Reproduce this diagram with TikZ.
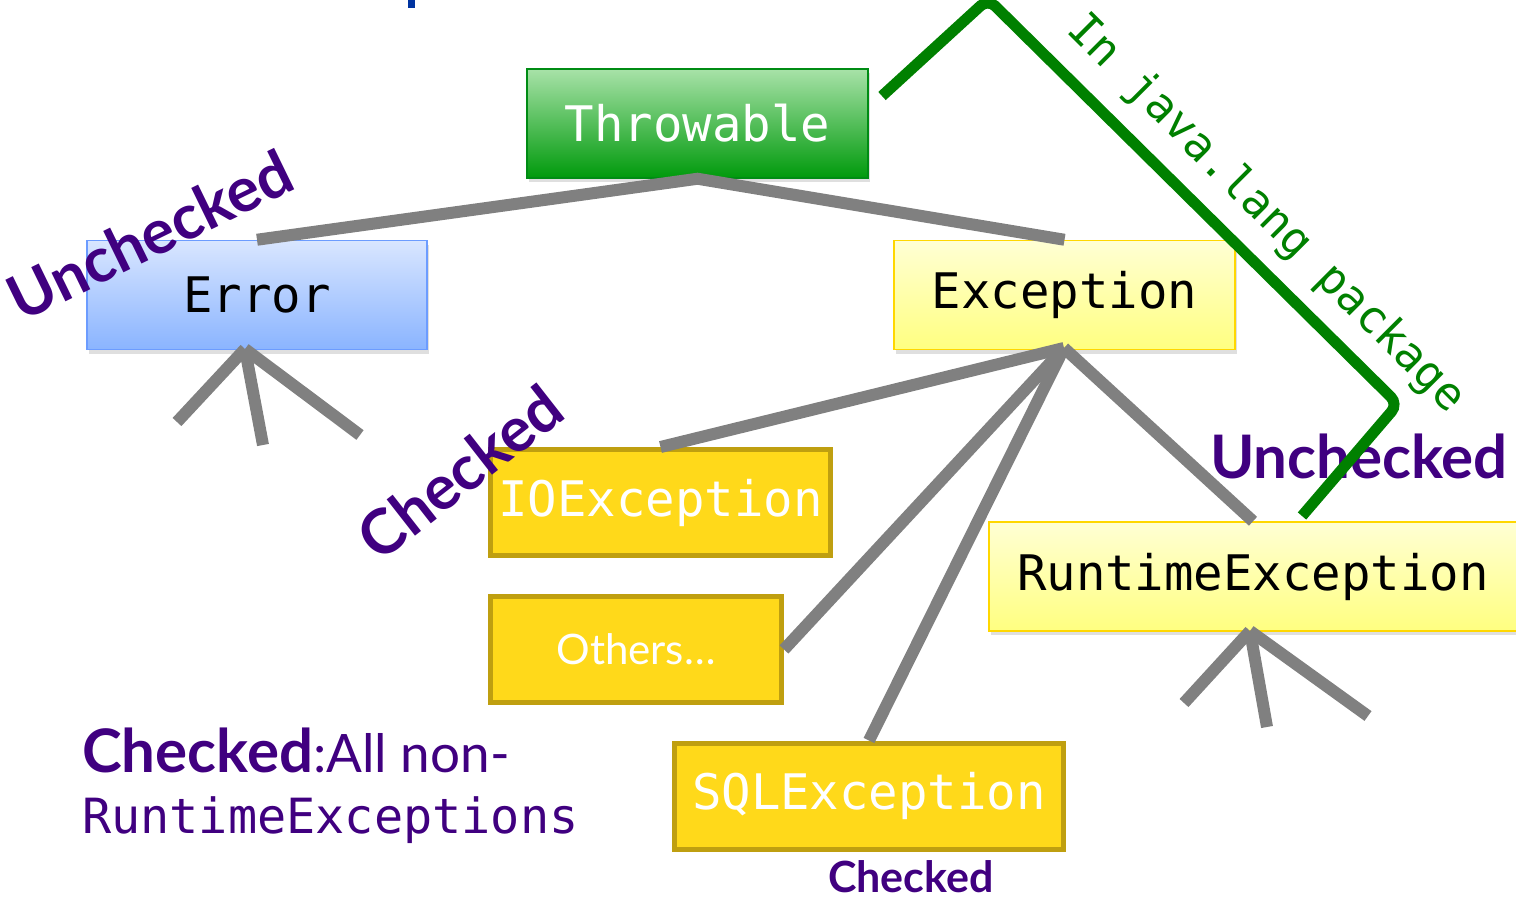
\documentclass[tikz,border=0pt]{standalone}
\usepackage{fontspec}
\setmainfont{Lato}
\newfontfamily\codefont{DejaVu Sans Mono}
\usetikzlibrary{shadows}
\definecolor{linkgray}{HTML}{808080}
\definecolor{pkggreen}{HTML}{008000}
\definecolor{tagpurple}{HTML}{400080}
\definecolor{titleblue}{HTML}{0033A0}
\definecolor{goldfill}{HTML}{FFD91A}
\definecolor{golddark}{HTML}{BF9F10}

\begin{document}
\begin{tikzpicture}[x=1pt, y=-1pt,
  classbox/.style={line width=1.5pt, minimum height=109pt,
    font=\codefont\fontsize{49}{58}\selectfont,
    drop shadow={opacity=0.25, shadow xshift=1.5pt, shadow yshift=-4pt}},
  rootbox/.style={classbox, draw={rgb,255:red,0;green,140;blue,20}, text=white,
    top color={rgb,255:red,168;green,226;blue,168}, bottom color={rgb,255:red,0;green,154;blue,12}},
  errbox/.style={classbox, draw={rgb,255:red,108;green,156;blue,255},
    top color={rgb,255:red,217;green,230;blue,255}, bottom color={rgb,255:red,138;green,180;blue,255}},
  excbox/.style={classbox, draw={rgb,255:red,255;green,215;blue,0},
    top color={rgb,255:red,255;green,255;blue,212}, bottom color={rgb,255:red,255;green,255;blue,128}},
  subbox/.style={draw=golddark, fill=goldfill, line width=5pt, minimum height=106pt, text=white,
    font=\codefont\fontsize{49}{58}\selectfont},
  link/.style={linkgray, line width=12pt},
  tag/.style={text=tagpurple, font=\bfseries\fontsize{#1}{#1}\selectfont, inner sep=0pt}]
\useasboundingbox (0,0) rectangle (1516,899);
\fill[titleblue] (408,0) rectangle (415,8);

\node[rootbox, minimum width=341pt] (throwable) at (697.5,123.5) {Throwable};
\node[errbox, minimum width=340pt] (error) at (257,295) {Error};
\node[excbox, minimum width=341pt] (exception) at (1064.5,295) {Exception};
\node[excbox, minimum width=528pt] (runtime) at (1253,576.5) {RuntimeException};
\node[subbox, minimum width=340pt] (ioexc) at (660.5,502.5) {IOException};
\node[subbox, minimum width=291pt, font=\fontsize{42}{50}\selectfont] (others) at (636,649.5) {Others\dots};
\node[subbox, minimum width=389pt] (sqlexc) at (869,796) {SQLException};

\coordinate (errfoot) at (245,349);
\coordinate (excfoot) at (1064,348);
\coordinate (rtfoot) at (1250,631);
\coordinate (errleg1) at (177,422);
\coordinate (errleg2) at (263,445);
\coordinate (errleg3) at (360,435);
\coordinate (rtleg1) at (1184,703);
\coordinate (rtleg2) at (1267,727);
\coordinate (rtleg3) at (1368,716);

\draw[link] (error.north) -- (throwable.south) -- (exception.north);
\draw[link] (errleg1) -- (errfoot);
\draw[link] (errleg2) -- (errfoot);
\draw[link] (errleg3) -- (errfoot);
\draw[link] (excfoot) -- (ioexc.north);
\draw[link] (excfoot) -- (others.east);
\draw[link] (excfoot) -- (sqlexc.north);
\draw[link] (excfoot) -- (runtime.north);
\draw[link] (rtleg1) -- (rtfoot);
\draw[link] (rtleg2) -- (rtfoot);
\draw[link] (rtleg3) -- (rtfoot);

\node[tag=62, rotate=26] (uncherr) at (150,235) {Unchecked};
\node[tag=62, rotate=38] (chkio) at (460,472) {Checked};
\node[tag=60, anchor=base west] (unchrt) at (1210,478) {Unchecked};
\node[tag=43, anchor=base west] (chksql) at (828,892) {Checked};
\node[tag=60, anchor=base west] (chknote) at (82,772) {Checked\mdseries\fontsize{53}{53}\selectfont:All non-};
\node[text=tagpurple, font=\codefont\fontsize{48.5}{48.5}\selectfont, inner sep=0pt, anchor=base west] (rtnote) at (82,833) {RuntimeExceptions};

\coordinate (pkgstart) at (882,96);
\coordinate (pkgtop) at (988,-1);
\coordinate (pkgcorner) at (1398,404);
\coordinate (pkgend) at (1302,516);
\draw[pkggreen, line width=11pt, rounded corners=10pt] (pkgstart) -- (pkgtop) -- (pkgcorner) -- (pkgend);
\node[text=pkggreen, font=\codefont\fontsize{45}{45}\selectfont, rotate=-45] (pkgnote) at (1266,214) {In java.lang package};
\end{tikzpicture}
\end{document}
